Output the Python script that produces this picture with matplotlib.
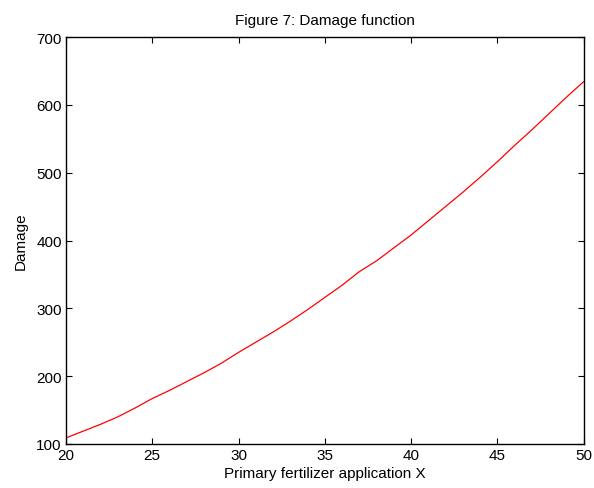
import matplotlib
matplotlib.use("Agg")
import matplotlib.pyplot as plt

x_vals = list(range(20, 51))
damage = [109, 119, 129, 140, 153, 167, 179, 192, 205, 219,
          235, 250, 265, 281, 298, 316, 334, 354, 370, 389,
          408, 429, 450, 471, 493, 516, 540, 563, 587, 611, 634]
x_ticks = [20, 25, 30, 35, 40, 45, 50]
y_ticks = [100, 200, 300, 400, 500, 600, 700]

plt.rcParams['font.family'] = ['Liberation Sans', 'DejaVu Sans']

fig = plt.figure(figsize=(5.94, 4.89), dpi=100)
ax = fig.add_axes([66/594, 44/489, (583.5-66)/594, (445-38)/489])
ax.plot(x_vals, damage, color='red', linewidth=0.9)
ax.set_xlim(20, 50)
ax.set_ylim(100, 700)
ax.set_xticks(x_ticks)
ax.set_yticks(y_ticks)
ax.tick_params(direction='in', top=True, right=True, length=4, width=0.8,
               labelsize=11, pad=3)
for s in ax.spines.values():
    s.set_linewidth(1.0)
ax.set_xlabel('Primary fertilizer application X', fontsize=11, labelpad=3)
ax.set_ylabel('Damage', fontsize=11, labelpad=6)
ax.set_title('Figure 7: Damage function', fontsize=11, pad=9)
fig.savefig('out.png', dpi=100)
